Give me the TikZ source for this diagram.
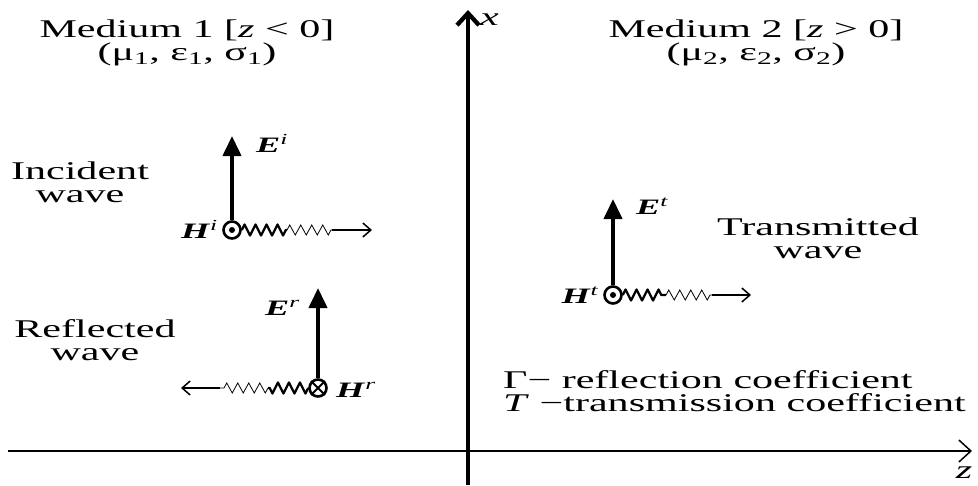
\documentclass[tikz,border=0pt]{standalone}
\usepackage{fontspec}
\setmainfont{Liberation Serif}[FakeStretch=1.65]
\usetikzlibrary{arrows.meta,positioning,decorations.pathmorphing}

\begin{document}
\begin{tikzpicture}[x=1pt, y=-1pt,
  txt/.style={font=\fontsize{25.5}{23}\selectfont, align=center, inner sep=0pt},
  vec/.style={font=\fontsize{22}{22}\selectfont, inner sep=0pt},
  field/.style={line width=4pt, -{Triangle[length=20pt, width=18pt]}},
  hdot/.style={circle, draw, line width=2.6pt, minimum size=17pt, inner sep=0pt},
  thickwave/.style={line width=2.3pt, line join=round, decorate, decoration={zigzag, segment length=11pt, amplitude=5.5pt}},
  thinwave/.style={line width=0.8pt, decorate, decoration={zigzag, segment length=11pt, amplitude=5pt}},
  travel/.style={line width=1.5pt, -{Straight Barb[length=8pt, width=14pt]}},
  axis/.style={-{Straight Barb[length=12pt, width=22pt]}}
]
  \useasboundingbox (0,0) rectangle (978,485);

  \node[txt] (med1) at (187,43) {Medium 1 [\textit{z} < 0]\\(μ\textsubscript{1}, ε\textsubscript{1}, σ\textsubscript{1})};
  \node[txt] (med2) at (756,43) {Medium 2 [\textit{z} > 0]\\(μ\textsubscript{2}, ε\textsubscript{2}, σ\textsubscript{2})};

  \coordinate (xbot) at (468,485);
  \coordinate (xtop) at (468,10);
  \draw[axis, line width=4.3pt] (xbot) -- (xtop);
  \node[txt, anchor=base west] (xlab) at (480,25) {\textit{x}};
  \coordinate (zleft) at (8,451);
  \coordinate (zright) at (972,451);
  \draw[axis, line width=1.5pt] (zleft) -- (zright);
  \node[txt, anchor=base] (zlab) at (964,478) {\textit{z}};

  \node[txt] (inc) at (80,182) {Incident\\wave};
  \node[txt] (refl) at (95,340) {Reflected\\wave};
  \node[txt] (trans) at (818,238) {Transmitted\\wave};

  % incident
  \node[hdot] (hi) at (232,230) {};
  \fill (hi.center) circle (3);
  \coordinate (eitip) at (232,136);
  \draw[field] (hi.north) -- (eitip);
  \node[vec, anchor=base west] (eilab) at (256,152) {\textbf{\textit{E}}\textsuperscript{\textit{i}}};
  \node[vec, anchor=base east] (hilab) at (218,238) {\textbf{\textit{H}}\textsuperscript{\textit{i}}};
  \coordinate (wi1) at (287,230);
  \coordinate (wi2) at (332,230);
  \coordinate (wi3) at (372,230);
  \draw[thickwave] (hi.east) -- (wi1);
  \draw[thinwave] (wi1) -- (wi2);
  \draw[travel] (wi2) -- (wi3);

  % reflected
  \node[hdot] (hr) at (318,388) {};
  \draw[line width=1.8pt] (hr.north west) -- (hr.south east) (hr.north east) -- (hr.south west);
  \coordinate (ertip) at (318,288);
  \draw[field] (hr.north) -- (ertip);
  \node[vec, anchor=base east] (erlab) at (300,315) {\textbf{\textit{E}}\textsuperscript{\textit{r}}};
  \node[vec, anchor=base west] (hrlab) at (336,397) {\textbf{\textit{H}}\textsuperscript{\textit{r}}};
  \coordinate (wr1) at (268,388);
  \coordinate (wr2) at (220,388);
  \coordinate (wr3) at (181,388);
  \draw[thickwave] (hr.west) -- (wr1);
  \draw[thinwave] (wr1) -- (wr2);
  \draw[travel] (wr2) -- (wr3);

  % transmitted
  \node[hdot] (ht) at (613,295) {};
  \fill (ht.center) circle (3);
  \coordinate (ettip) at (613,199);
  \draw[field] (ht.north) -- (ettip);
  \node[vec, anchor=base west] (etlab) at (636,214) {\textbf{\textit{E}}\textsuperscript{\textit{t}}};
  \node[vec, anchor=base east] (htlab) at (599,303) {\textbf{\textit{H}}\textsuperscript{\textit{t}}};
  \coordinate (wt1) at (666,295);
  \coordinate (wt2) at (712,295);
  \coordinate (wt3) at (751,295);
  \draw[thickwave] (ht.east) -- (wt1);
  \draw[thinwave] (wt1) -- (wt2);
  \draw[travel] (wt2) -- (wt3);

  \node[txt, anchor=west, align=left] (coef) at (503,391) {Γ− reflection coefficient\\\textit{T} −transmission coefficient};
\end{tikzpicture}
\end{document}
